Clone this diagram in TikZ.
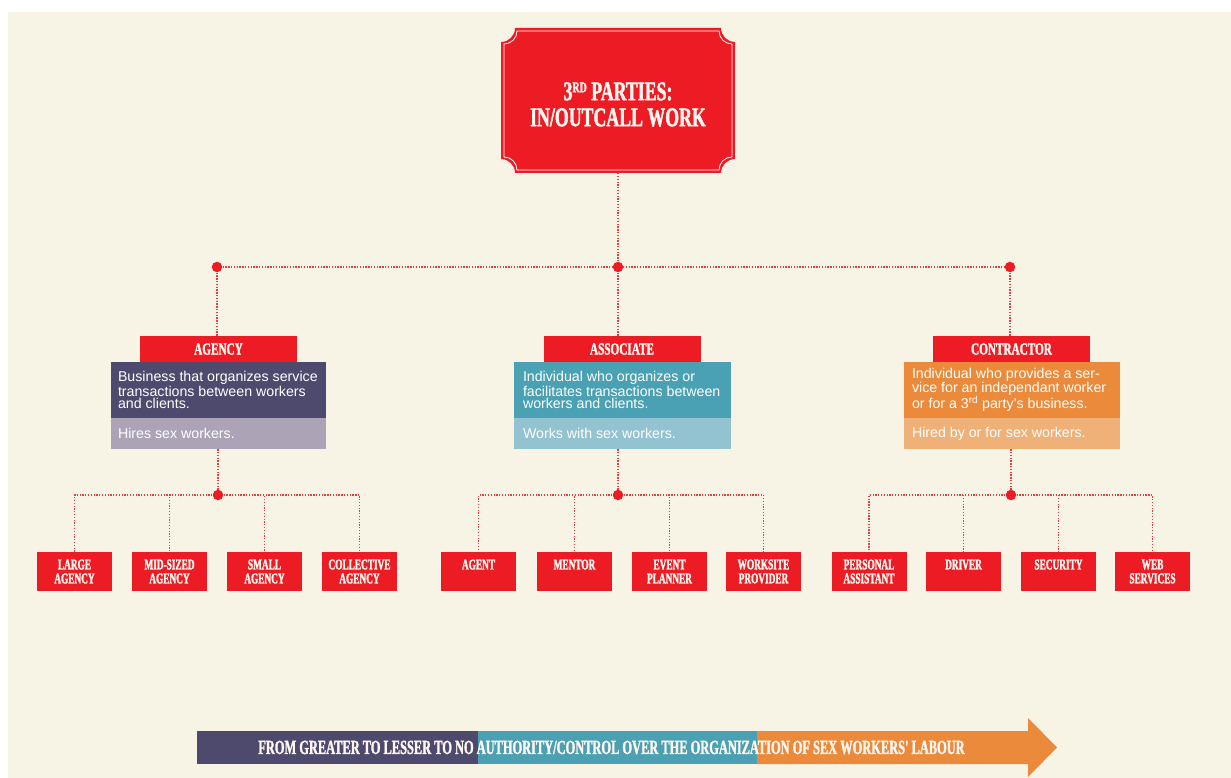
\documentclass[tikz,border=0pt]{standalone}
\usepackage{fontspec}
\setmainfont{Liberation Sans}
\newfontfamily\poster[FakeStretch=0.66,FakeBold=1.6]{Liberation Serif}
\newfontfamily\posterN[FakeStretch=0.62,FakeBold=1.6]{Liberation Serif}
\newcommand\postr{\poster\bfseries}
\newcommand\postrN{\posterN\bfseries}
\usetikzlibrary{backgrounds}
\definecolor{cRed}{HTML}{ED1C24}
\definecolor{cLine}{HTML}{EB3B43}
\definecolor{cBg}{HTML}{F7F4E6}
\definecolor{cPur}{HTML}{4E4A6E}
\definecolor{cPurL}{HTML}{ACA4B6}
\definecolor{cTeal}{HTML}{4AA1B3}
\definecolor{cTealL}{HTML}{93C3D0}
\definecolor{cOra}{HTML}{EC8A3B}
\definecolor{cOraL}{HTML}{F0B178}
\definecolor{cTxt}{HTML}{FFF6F0}
\begin{document}
\begin{tikzpicture}[x=1pt,y=-1pt,
  dotline/.style={draw=cLine, line width=1.3pt, dash pattern=on 1.3pt off 1.5pt},
  jdot/.style={circle, fill=cRed, inner sep=0pt, minimum size=10.5pt},
  lab/.style={fill=cRed, inner sep=0pt, minimum width=157pt, minimum height=26pt, text=cTxt, font={\postr\fontsize{17}{17}\selectfont}},
  leaf/.style={fill=cRed, inner sep=0pt, minimum width=75pt, minimum height=39pt, align=center, text=cTxt, font={\postrN\fontsize{15}{14}\selectfont}},
  dbox/.style={inner sep=0pt, minimum width=#1},
  dtext/.style={anchor=west, inner sep=0pt, align=left, text=white, font={\fontsize{14.2}{12.2}\selectfont}},
]
\useasboundingbox (0,0) rectangle (1231,778);
\begin{pgfonlayer}{background}
\fill[white] (0,0) rectangle (1231,778);
\fill[cBg] (8,12) rectangle (1231,778);
\end{pgfonlayer}

% title
\node[minimum width=234pt, minimum height=145pt, inner sep=0pt] (ttl) at (618,100.5) {};
\fill[cRed] (515,28) -- (721,28) .. controls (721,35.7) and (727.3,42) .. (735,42) -- (735,159) .. controls (727.3,159) and (721,165.3) .. (721,173) -- (515,173) .. controls (515,165.3) and (508.7,159) .. (501,159) -- (501,42) .. controls (508.7,42) and (515,35.7) .. (515,28) -- cycle;
\draw[white, line width=0.8pt] (517,31) -- (719,31) .. controls (719,38.2) and (724.8,44) .. (732,44) -- (732,157) .. controls (724.8,157) and (719,162.8) .. (719,170) -- (517,170) .. controls (517,162.8) and (511.2,157) .. (504,157) -- (504,44) .. controls (511.2,44) and (517,38.2) .. (517,31) -- cycle;
\node[align=center, inner sep=0pt, text=cTxt, font={\postr\fontsize{27}{26}\selectfont}] (ttltext) at (618,104.5)
  {3\raisebox{8pt}{\fontsize{15}{15}\selectfont RD} PARTIES:\\IN/OUTCALL WORK};

% junction dots
\node[jdot] (d1) at (217,267) {};
\node[jdot] (d2) at (618,267) {};
\node[jdot] (d3) at (1010,267) {};
\node[jdot] (d4) at (218,495) {};
\node[jdot] (d5) at (618,495) {};
\node[jdot] (d6) at (1011,495) {};

% agency
\node[lab] (aglab) at (218.5,349) {AGENCY};
\node[dbox=215pt, fill=cPur, minimum height=56pt] (agdesc) at (218.5,390) {};
\node[dbox=215pt, fill=cPurL, minimum height=31pt] (aghire) at (218.5,433.5) {};
\node[dtext] (agdesct) at ([xshift=7pt]agdesc.west) {Business that organizes service\\transactions between workers\\and clients.};
\node[dtext] (aghiret) at ([xshift=7pt]aghire.west) {Hires sex workers.};
% associate
\node[lab] (aslab) at (622,349) {ASSOCIATE};
\node[dbox=217pt, fill=cTeal, minimum height=56pt] (asdesc) at (622.5,390) {};
\node[dbox=217pt, fill=cTealL, minimum height=31pt] (ashire) at (622.5,433.5) {};
\node[dtext] (asdesct) at ([xshift=9pt]asdesc.west) {Individual who organizes or\\facilitates transactions between\\workers and clients.};
\node[dtext] (ashiret) at ([xshift=9pt]ashire.west) {Works with sex workers.};
% contractor
\node[lab] (colab) at (1011.5,349) {CONTRACTOR};
\node[dbox=216pt, fill=cOra, minimum height=56pt] (codesc) at (1012,390) {};
\node[dbox=216pt, fill=cOraL, minimum height=31pt] (cohire) at (1012,433.5) {};
\node[dtext] (codesct) at ([xshift=8pt]codesc.west) {Individual who provides a ser-\\vice for an independant worker\\or for a 3\textsuperscript{rd} party's business.};
\node[dtext] (cohiret) at ([xshift=8pt]cohire.west) {Hired by or for sex workers.};

% leaves
\node[leaf] (a1) at (74.5,571.5) {LARGE\\AGENCY};
\node[leaf] (a2) at (169.5,571.5) {MID-SIZED\\AGENCY};
\node[leaf] (a3) at (264.5,571.5) {SMALL\\AGENCY};
\node[leaf] (a4) at (359.5,571.5) {COLLECTIVE\\AGENCY};
\node[leaf] (b1) at (478.5,571.5) {AGENT\\\mbox{}};
\node[leaf] (b2) at (574.5,571.5) {MENTOR\\\mbox{}};
\node[leaf] (b3) at (669.5,571.5) {EVENT\\PLANNER};
\node[leaf] (b4) at (763.5,571.5) {WORKSITE\\PROVIDER};
\node[leaf] (c1) at (869,571.5) {PERSONAL\\ASSISTANT};
\node[leaf] (c2) at (963.5,571.5) {DRIVER\\\mbox{}};
\node[leaf] (c3) at (1058.5,571.5) {SECURITY\\\mbox{}};
\node[leaf] (c4) at (1152.5,571.5) {WEB\\SERVICES};

% connectors
\begin{pgfonlayer}{background}
\draw[dotline] (ttl.south) -- (d2.center);
\draw[dotline] (d1.center) -- (d3.center);
\draw[dotline] (d1.center) -- (d1 |- aglab.north);
\draw[dotline] (d2.center) -- (d2 |- aslab.north);
\draw[dotline] (d3.center) -- (d3 |- colab.north);
\draw[dotline] (d4 |- aghire.south) -- (d4.center);
\draw[dotline] (d5 |- ashire.south) -- (d5.center);
\draw[dotline] (d6 |- cohire.south) -- (d6.center);
\foreach \n in {a1,a2,a3,a4} \draw[dotline] (d4.center) -| (\n.north);
\foreach \n in {b1,b2,b3,b4} \draw[dotline] (d5.center) -| (\n.north);
\foreach \n in {c1,c2,c3,c4} \draw[dotline] (d6.center) -| (\n.north);
\end{pgfonlayer}

% bottom arrow
\fill[cPur] (197,731) rectangle (478,764);
\fill[cTeal] (478,731) rectangle (757,764);
\fill[cOra] (757,731) -- (1028,731) -- (1028,718) -- (1057,747.5) -- (1028,777) -- (1028,764) -- (757,764) -- cycle;
\node[inner sep=0pt, text=cTxt, font={\postrN\fontsize{20}{20}\selectfont}] (arr) at (611.5,747.5)
  {FROM GREATER TO LESSER TO NO AUTHORITY/CONTROL OVER THE ORGANIZATION OF SEX WORKERS' LABOUR};
\end{tikzpicture}
\end{document}
